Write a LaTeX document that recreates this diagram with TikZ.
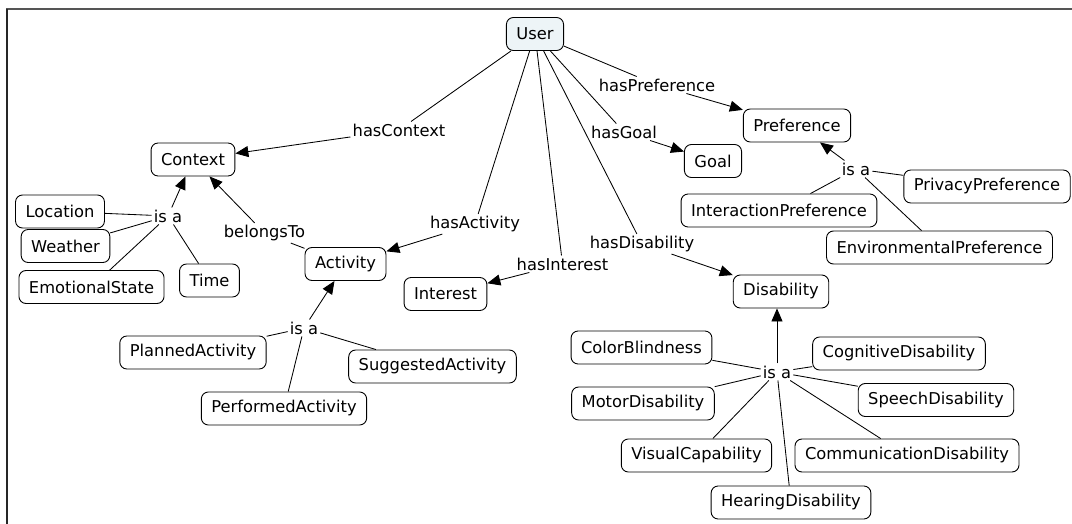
\documentclass[tikz,border=0pt]{standalone}
\usepackage{fontspec}
\setmainfont{DejaVu Sans}
\usetikzlibrary{arrows.meta}
\definecolor{userfill}{HTML}{EDF4F7}
\definecolor{framegray}{HTML}{555555}
\tikzset{
  concept/.style={draw, line width=0.9pt, rounded corners=7pt, inner xsep=10pt,
    inner ysep=0pt, minimum height=33pt, fill=white,
    font=\fontsize{16.3}{19}\selectfont},
  linkphrase/.style={inner sep=2pt, font=\fontsize{16.3}{19}\selectfont},
  rel/.style={line width=0.85pt},
  relarrow/.style={line width=0.85pt, -{Triangle[length=13pt,width=11pt]}}
}
\begin{document}
\begin{tikzpicture}[x=1pt,y=-1pt]
\useasboundingbox (0,0) rectangle (1072,524);
% frame
\draw[framegray, line width=2pt] (6,9.5) -- (1072,9.5);
\draw[black!85, line width=2pt] (6.5,9) -- (6.5,524);

% concepts
\node[concept, fill=userfill] (user) at (535,34) {User};
\node[concept] (context) at (193,159.5) {Context};
\node[concept] (location) at (60,211.5) {Location};
\node[concept] (weather) at (65.5,246) {Weather};
\node[concept] (emotional) at (91.5,287) {EmotionalState};
\node[concept] (time) at (209.5,280.5) {Time};
\node[concept] (activity) at (345.5,264) {Activity};
\node[concept] (interest) at (445.5,294) {Interest};
\node[concept] (goal) at (713,161) {Goal};
\node[concept] (preference) at (797,125.5) {Preference};
\node[concept] (privacy) at (987,186.5) {PrivacyPreference};
\node[concept] (interaction) at (779,210.5) {InteractionPreference};
\node[concept] (environmental) at (939.5,247.5) {EnvironmentalPreference};
\node[concept] (disability) at (781,291.5) {Disability};
\node[concept] (planned) at (193,352.5) {PlannedActivity};
\node[concept] (performed) at (284,408.5) {PerformedActivity};
\node[concept] (suggested) at (432.5,366.5) {SuggestedActivity};
\node[concept] (colorblind) at (641.5,347.5) {ColorBlindness};
\node[concept] (motor) at (643,403.5) {MotorDisability};
\node[concept] (visual) at (696.5,455.5) {VisualCapability};
\node[concept] (hearing) at (791,502.5) {HearingDisability};
\node[concept] (cognitive) at (899,353.5) {CognitiveDisability};
\node[concept] (speech) at (936,400) {SpeechDisability};
\node[concept] (communication) at (907,455.5) {CommunicationDisability};

% linking phrases
\node[linkphrase] (hascontext) at (399,130) {hasContext};
\node[linkphrase] (hasactivity) at (475,224) {hasActivity};
\node[linkphrase] (hasinterest) at (562.5,264) {hasInterest};
\node[linkphrase] (hasdisability) at (642,244) {hasDisability};
\node[linkphrase] (hasgoal) at (624,132) {hasGoal};
\node[linkphrase] (haspreference) at (657,85) {hasPreference};
\node[linkphrase] (belongsto) at (264.5,233) {belongsTo};
\node[linkphrase] (isacontext) at (168,216) {is a};
\node[linkphrase] (isaactivity) at (304,328) {is a};
\node[linkphrase] (isapreference) at (856,169) {is a};
\node[linkphrase] (isadisability) at (777,372) {is a};

% user relations
\draw[rel] (user) -- (hascontext);
\draw[relarrow] (hascontext) -- (context);
\draw[rel] (user) -- (hasactivity);
\draw[relarrow] (hasactivity) -- (activity);
\draw[rel] (user) -- (hasinterest);
\draw[relarrow] (hasinterest) -- (interest);
\draw[rel] (user) -- (hasdisability);
\draw[relarrow] (hasdisability) -- (disability);
\draw[rel] (user) -- (hasgoal);
\draw[relarrow] (hasgoal) -- (goal);
\draw[rel] (user) -- (haspreference);
\draw[relarrow] (haspreference) -- (preference);

% activity belongs to context
\draw[rel] (activity) -- (belongsto);
\draw[relarrow] (belongsto) -- (context);

% context subclasses
\draw[rel] (location) -- (isacontext);
\draw[rel] (weather) -- (isacontext);
\draw[rel] (emotional) -- (isacontext);
\draw[rel] (time) -- (isacontext);
\draw[relarrow] (isacontext) -- (context);

% activity subclasses
\draw[rel] (planned) -- (isaactivity);
\draw[rel] (performed) -- (isaactivity);
\draw[rel] (suggested) -- (isaactivity);
\draw[relarrow] (isaactivity) -- (activity);

% preference subclasses
\draw[rel] (privacy) -- (isapreference);
\draw[rel] (interaction) -- (isapreference);
\draw[rel] (environmental) -- (isapreference);
\draw[relarrow] (isapreference) -- (preference);

% disability subclasses
\draw[rel] (colorblind) -- (isadisability);
\draw[rel] (motor) -- (isadisability);
\draw[rel] (visual) -- (isadisability);
\draw[rel] (hearing) -- (isadisability);
\draw[rel] (cognitive) -- (isadisability);
\draw[rel] (speech) -- (isadisability);
\draw[rel] (communication) -- (isadisability);
\draw[relarrow] (isadisability.north) -- (isadisability.north |- disability.south);
\end{tikzpicture}
\end{document}
